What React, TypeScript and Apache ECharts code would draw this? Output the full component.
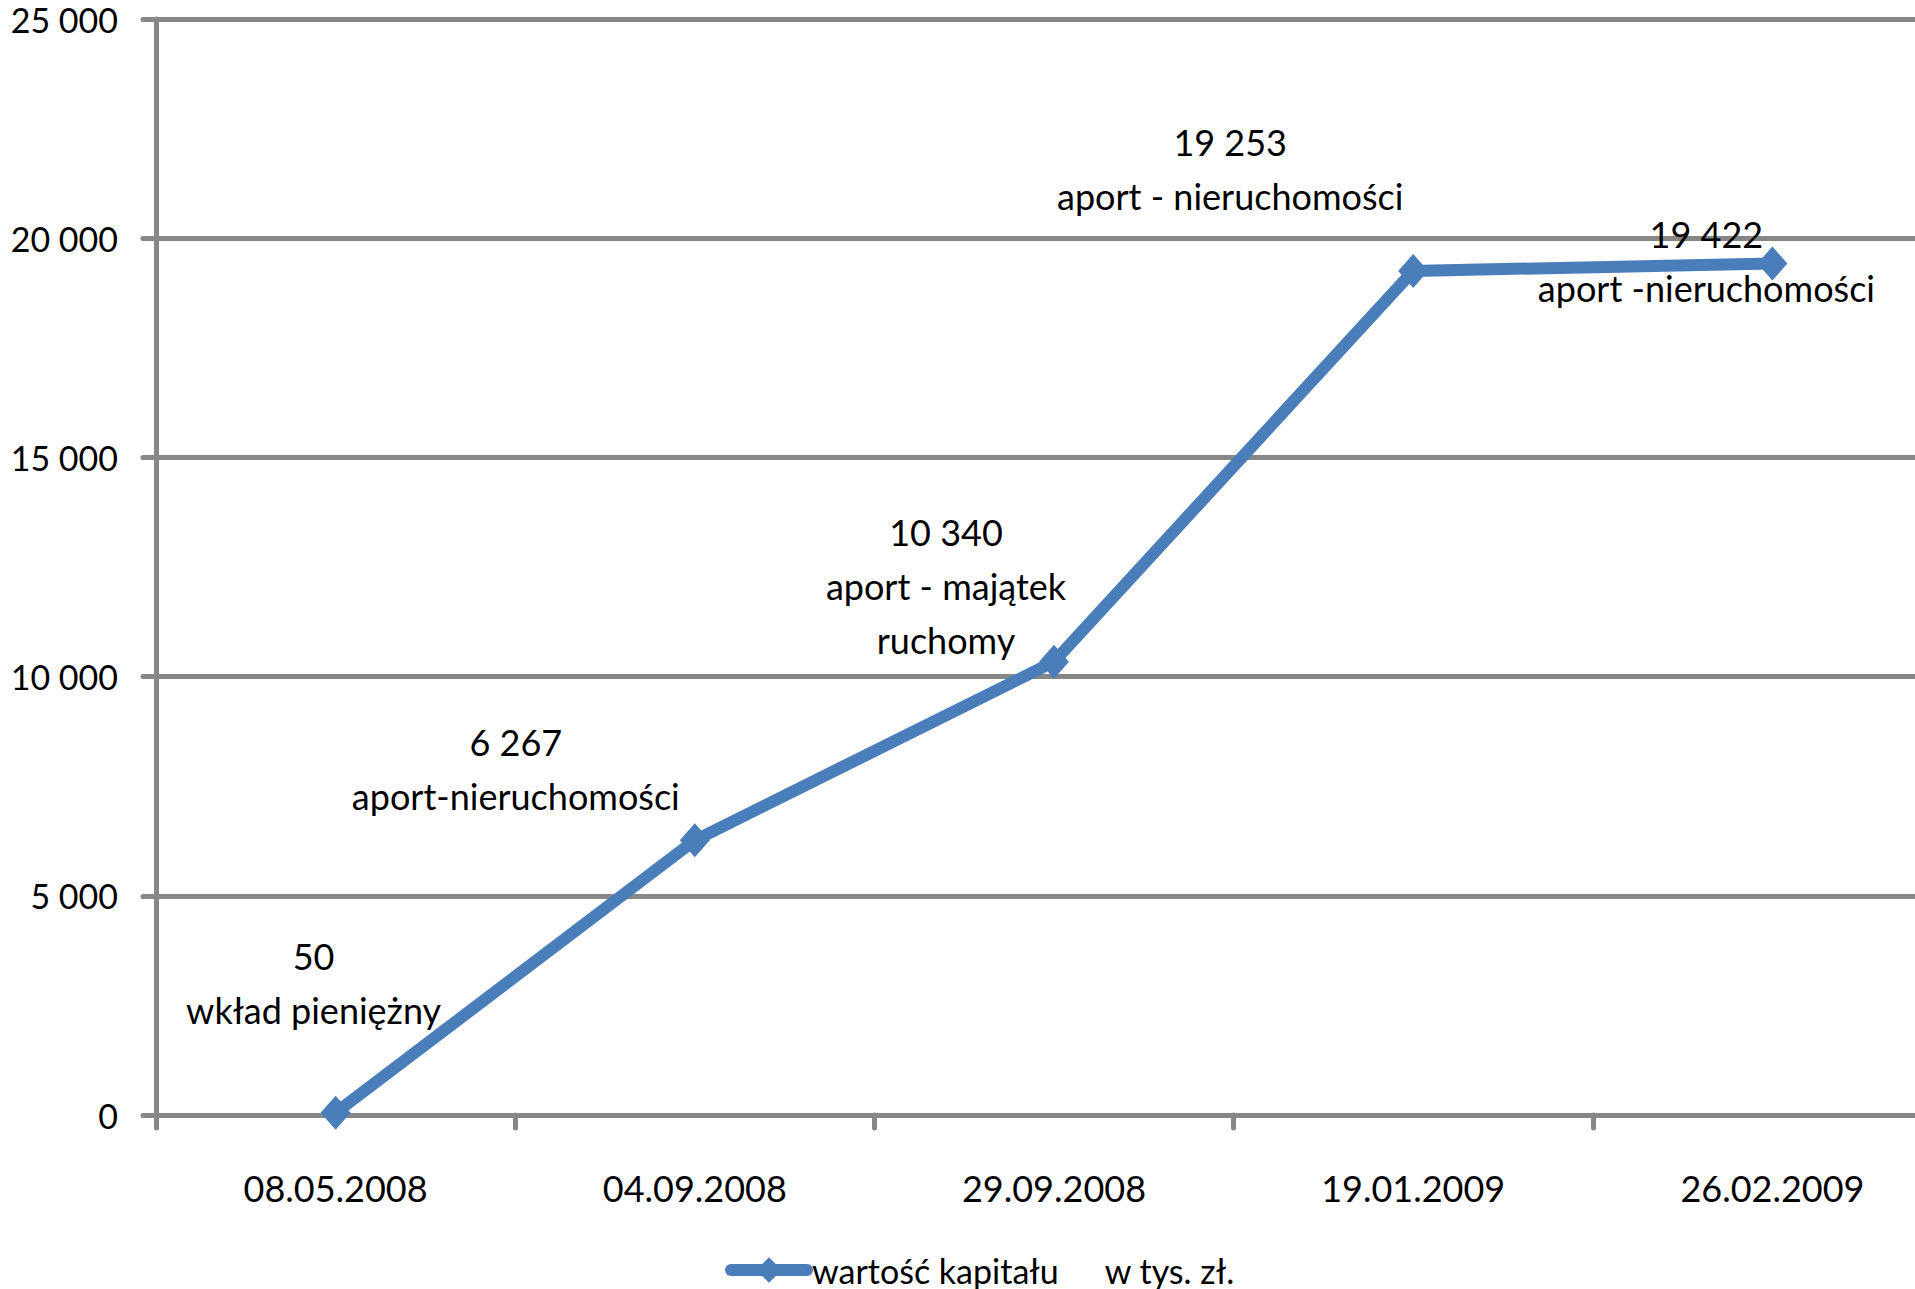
import React, { useEffect, useRef } from "react";
import * as echarts from "echarts";

const categories = ["08.05.2008", "04.09.2008", "29.09.2008", "19.01.2009", "26.02.2009"];
const values = [50, 6267, 10340, 19253, 19422];
const descriptions = [
  "wkład pieniężny",
  "aport-nieruchomości",
  "aport - majątek\nruchomy",
  "aport - nieruchomości",
  "aport -nieruchomości",
];
const labelOffsets: [number, number][] = [
  [-22, -130],
  [-179, -71],
  [-108, -76],
  [-183, -102],
  [-66, -3],
];
const yTicks = [0, 5000, 10000, 15000, 20000, 25000];
const seriesName = "wartość kapitału";
const unitText = "w tys. zł.";

const FONT = "Lato";
const GRAY = "#878787";
const BLUE = "#4A7EBB";

function fmt(v: number): string {
  return String(v).replace(/\B(?=(\d{3})+(?!\d))/g, " ");
}

export default function App() {
  const ref = useRef<HTMLDivElement>(null);
  useEffect(() => {
    if (!ref.current) return;
    const chart = echarts.init(ref.current, null, { renderer: "svg" });
    chart.setOption({
      animation: false,
      backgroundColor: "#ffffff",
      textStyle: { fontFamily: FONT },
      grid: { left: 156, top: 19, bottom: 174, right: 3, containLabel: false },
      legend: {
        left: 720,
        top: 1248,
        itemWidth: 76,
        itemHeight: 32,
        itemGap: 6,
        data: [seriesName],
        lineStyle: { width: 12, cap: "round", color: BLUE },
        formatter: () => `{a|${seriesName}}{b|${unitText}}`,
        textStyle: {
          fontFamily: FONT,
          fontSize: 34,
          color: "#000",
          rich: {
            a: { fontFamily: FONT, fontSize: 34, color: "#000" },
            b: { fontFamily: FONT, fontSize: 34, color: "#000", padding: [0, 0, 0, 46] },
          },
        },
      },
      xAxis: {
        type: "category",
        data: categories,
        boundaryGap: true,
        axisLine: { show: true, lineStyle: { color: GRAY, width: 5, cap: "round" } },
        axisTick: { show: true, length: 13, lineStyle: { color: GRAY, width: 5, cap: "round" } },
        axisLabel: { fontFamily: FONT, fontSize: 36, color: "#000", margin: 55 },
        splitLine: { show: false },
      },
      yAxis: {
        type: "value",
        min: yTicks[0],
        max: yTicks[yTicks.length - 1],
        interval: 5000,
        axisLine: { show: true, lineStyle: { color: GRAY, width: 5, cap: "round" } },
        axisTick: { show: true, length: 13, lineStyle: { color: GRAY, width: 5, cap: "round" } },
        axisLabel: {
          fontFamily: FONT,
          fontSize: 34,
          color: "#000",
          margin: 38,
          formatter: (v: number) => fmt(v),
        },
        splitLine: { show: true, lineStyle: { color: GRAY, width: 5, cap: "round" } },
      },
      series: [
        {
          name: seriesName,
          type: "line",
          data: values.map((v, i) => ({
            value: v,
            label: {
              show: true,
              position: "inside",
              offset: labelOffsets[i],
              formatter: () => `${fmt(v)}\n${descriptions[i]}`,
            },
          })),
          symbol: "diamond",
          symbolSize: [30, 34],
          lineStyle: { color: BLUE, width: 12, join: "miter" },
          itemStyle: { color: BLUE },
          label: {
            fontFamily: FONT,
            fontSize: 36,
            color: "#000",
            lineHeight: 54,
            align: "center",
            verticalAlign: "middle",
          },
          z: 3,
        },
      ],
    });
    return () => chart.dispose();
  }, []);
  return (
    <div
      style={{
        position: "absolute",
        left: 0,
        top: 0,
        width: 1915,
        height: 1289,
        overflow: "hidden",
      }}
    >
      <div ref={ref} style={{ width: 1955, height: 1289 }} />
    </div>
  );
}
